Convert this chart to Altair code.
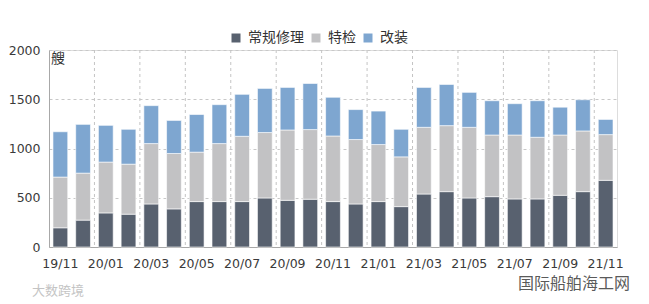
import altair as alt
import pandas as pd

months = ["19/11", "19/12", "20/01", "20/02", "20/03", "20/04", "20/05", "20/06",
          "20/07", "20/08", "20/09", "20/10", "20/11", "20/12", "21/01", "21/02",
          "21/03", "21/04", "21/05", "21/06", "21/07", "21/08", "21/09", "21/10", "21/11"]
repair = [195, 273, 346, 333, 437, 387, 461, 461, 461, 498, 474, 485, 461,
          437, 461, 410, 538, 562, 498, 511, 488, 488, 525, 562, 677]
inspect = [515, 477, 516, 508, 613, 562, 502, 589, 663, 664, 714, 707, 666,
           654, 579, 505, 677, 670, 717, 626, 649, 626, 612, 616, 464]
refit = [460, 495, 373, 354, 385, 336, 382, 395, 426, 448, 432, 468, 393,
         304, 340, 280, 405, 418, 355, 348, 318, 371, 283, 317, 154]
series = ["常规修理", "特检", "改装"]
colors = ["#58616f", "#c2c2c4", "#7ea6d0"]
label_months = months[::2]
y_ticks = [0, 500, 1000, 1500, 2000]
unit = ["艘"]
watermark_right = ["国际船舶海工网"]
watermark_left = ["大数跨境"]

rows = []
for i, m in enumerate(months):
    for k, (s, vals) in enumerate(zip(series, [repair, inspect, refit])):
        rows.append({"month": m, "series": s, "value": vals[i], "ord": k})
df = pd.DataFrame(rows)

font = "DejaVu Sans"
cjk = "Noto Sans CJK SC"

xscale = alt.Scale(domain=months, paddingInner=0.35, paddingOuter=0.175)

bars = alt.Chart(df).mark_bar(stroke="white", strokeWidth=0.6).encode(
    x=alt.X("month:N", sort=months, scale=xscale,
            axis=alt.Axis(values=label_months, labelAngle=0, title=None, ticks=False,
                          grid=False, labelPadding=10, labelFont=font, labelFontSize=12.5,
                          labelColor="#3a3a3a", domainColor="#a8a8a8")),
    y=alt.Y("value:Q", stack="zero", scale=alt.Scale(domain=[0, 2000], nice=False),
            axis=alt.Axis(values=y_ticks, format="d", title=None, ticks=False, grid=True,
                          gridDash=[3, 3], gridColor="#c8c8c8", labelPadding=9,
                          labelFont=font, labelFontSize=12.5, labelColor="#3a3a3a",
                          domainColor="#a8a8a8")),
    color=alt.Color("series:N", scale=alt.Scale(domain=series, range=colors),
                    legend=alt.Legend(orient="none", legendX=180, legendY=-19,
                                      direction="horizontal", title=None,
                                      symbolType="square", symbolSize=81,
                                      symbolStrokeWidth=0, labelFont=cjk,
                                      labelFontSize=14, labelColor="#333333",
                                      labelOffset=5, columnPadding=5)),
    order=alt.Order("ord:Q", sort="ascending"),
)

grid_df = pd.DataFrame({"month": label_months[1:]})
vrules = alt.Chart(grid_df).mark_rule(color="#c4c4c4", strokeDash=[3, 3]).encode(
    x=alt.X("month:N", bandPosition=0,
            scale=alt.Scale(domain=months, paddingInner=0, paddingOuter=0), axis=None),
)

unit_text = alt.Chart(pd.DataFrame({"t": unit})).mark_text(
    align="left", baseline="middle", font=cjk, fontSize=14, color="#333333"
).encode(text="t:N", x=alt.value(2), y=alt.value(9))

wm_r = alt.Chart(pd.DataFrame({"t": watermark_right})).mark_text(
    align="left", baseline="middle", font=cjk, fontSize=16, color="#5a5a5a"
).encode(text="t:N", x=alt.value(469), y=alt.value(234))

wm_l = alt.Chart(pd.DataFrame({"t": watermark_left})).mark_text(
    align="left", baseline="middle", font=cjk, fontSize=13, color="#c4c4c4"
).encode(text="t:N", x=alt.value(-17), y=alt.value(241))

chart = alt.layer(vrules, bars, unit_text, wm_r, wm_l).resolve_scale(
    x="independent"
).properties(
    width=568, height=197,
    autosize=alt.AutoSizeParams(type="none"),
    padding={"left": 49, "top": 50, "right": 32, "bottom": 57},
).configure_view(stroke="#b0b0b0", strokeWidth=1).configure(background="white")

chart.save("out.html", embed_options={"renderer": "svg", "actions": False})
